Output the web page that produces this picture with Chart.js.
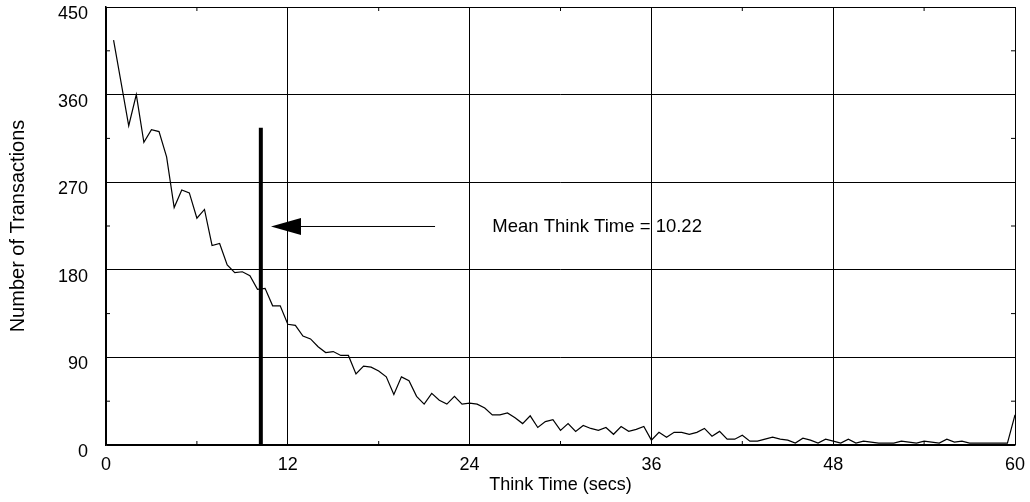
<!DOCTYPE html>
<html>
<head>
<meta charset="utf-8">
<title>Think Time Distribution</title>
<script src="https://cdn.jsdelivr.net/npm/chart.js@4"></script>
<style>
  body { margin: 0; background: #fff; }
  #wrap { width: 1030px; height: 502px; }
</style>
</head>
<body>
<div id="wrap"><canvas id="chart"></canvas></div>
<script>
// think time buckets (secs) and transaction counts
const thinkTimes = [
    0.5, 1, 1.5, 2, 2.5, 3, 3.5, 4, 4.5, 5, 5.5, 6, 6.5, 7, 7.5, 8, 8.5, 9, 9.5, 10,
    10.5, 11, 11.5, 12, 12.5, 13, 13.5, 14, 14.5, 15, 15.5, 16, 16.5, 17, 17.5, 18, 18.5, 19, 19.5, 20,
    20.5, 21, 21.5, 22, 22.5, 23, 23.5, 24, 24.5, 25, 25.5, 26, 26.5, 27, 27.5, 28, 28.5, 29, 29.5, 30,
    30.5, 31, 31.5, 32, 32.5, 33, 33.5, 34, 34.5, 35, 35.5, 36, 36.5, 37, 37.5, 38, 38.5, 39, 39.5, 40,
    40.5, 41, 41.5, 42, 42.5, 43, 43.5, 44, 44.5, 45, 45.5, 46, 46.5, 47, 47.5, 48, 48.5, 49, 49.5, 50,
    50.5, 51, 51.5, 52, 52.5, 53, 53.5, 54, 54.5, 55, 55.5, 56, 56.5, 57, 57.5, 58, 58.5, 59, 59.5, 60
];
const transactions = [
    416, 372, 328, 360, 311, 324, 322, 296, 244, 262, 259, 233, 242, 205, 207, 185, 177, 178, 174, 160,
    161, 143, 143, 124, 123, 112, 109, 101, 95, 96, 92, 92, 73, 81, 80, 76, 70, 52, 70, 66,
    50, 42, 53, 46, 42, 50, 42, 43, 42, 38, 31, 31, 33, 28, 22, 30, 18, 24, 26, 15,
    22, 14, 20, 17, 15, 18, 11, 19, 14, 16, 19, 5, 13, 8, 13, 13, 11, 13, 17, 9,
    14, 6, 6, 10, 4, 4, 6, 8, 6, 5, 2, 7, 5, 2, 6, 4, 2, 6, 2, 4,
    3, 2, 2, 2, 4, 3, 2, 4, 3, 2, 6, 3, 4, 2, 2, 2, 2, 2, 2, 31
];

// mean marker and arrow annotation
const meanThinkTime = 10.22;
const meanBarTop = 326;
const arrowY = 224.5;
const arrowTip = 10.89;
const arrowHeadBase = 12.87;
const arrowTail = 21.72;
const annotationX = 25.5;
const annotationText = 'Mean Think Time = 10.22';

// axis ticks
const xMajorTicks = [0, 12, 24, 36, 48, 60];
const xMinorTicks = [6, 18, 30, 42, 54];
const yMajorTicks = [0, 90, 180, 270, 360, 450];
const yMinorTicks = [45, 135, 225, 315, 405];

const fontFamily = "'Liberation Sans', Arial, Helvetica, sans-serif";

const decorations = {
    id: 'decorations',
    afterDatasetsDraw(chart) {
        const ctx = chart.ctx;
        const x = chart.scales.x;
        const y = chart.scales.y;
        const area = chart.chartArea;
        const len = 4;

        ctx.save();
        ctx.strokeStyle = '#000';
        ctx.lineWidth = 1;
        ctx.beginPath();
        xMinorTicks.forEach(v => {
            const px = x.getPixelForValue(v);
            ctx.moveTo(px, area.top);
            ctx.lineTo(px, area.top + len);
            ctx.moveTo(px, area.bottom);
            ctx.lineTo(px, area.bottom - len);
        });
        yMinorTicks.forEach(v => {
            const py = y.getPixelForValue(v);
            ctx.moveTo(area.left, py);
            ctx.lineTo(area.left + len, py);
            ctx.moveTo(area.right, py);
            ctx.lineTo(area.right - len, py);
        });
        ctx.stroke();

        // arrow head
        const ay = y.getPixelForValue(arrowY);
        const tipX = x.getPixelForValue(arrowTip);
        const baseX = x.getPixelForValue(arrowHeadBase);
        ctx.fillStyle = '#000';
        ctx.beginPath();
        ctx.moveTo(tipX, ay);
        ctx.lineTo(baseX, ay - 8.5);
        ctx.lineTo(baseX, ay + 8.5);
        ctx.closePath();
        ctx.fill();

        // label
        ctx.font = '18.5px ' + fontFamily;
        ctx.textBaseline = 'middle';
        ctx.textAlign = 'left';
        ctx.fillText(annotationText, x.getPixelForValue(annotationX), ay);
        ctx.restore();
    }
};

const ctx = document.getElementById('chart').getContext('2d');
new Chart(ctx, {
    type: 'line',
    data: {
        datasets: [
            {
                label: 'Transactions',
                data: thinkTimes.map((t, i) => ({ x: t, y: transactions[i] })),
                borderColor: '#000',
                borderWidth: 1.2,
                pointRadius: 0,
                tension: 0
            },
            {
                label: 'Mean',
                data: [{ x: meanThinkTime, y: 0 }, { x: meanThinkTime, y: meanBarTop }],
                borderColor: '#000',
                borderWidth: 4,
                borderCapStyle: 'butt',
                pointRadius: 0
            },
            {
                label: 'Arrow',
                data: [{ x: arrowHeadBase, y: arrowY }, { x: arrowTail, y: arrowY }],
                borderColor: '#000',
                borderWidth: 1,
                pointRadius: 0
            }
        ]
    },
    options: {
        responsive: true,
        maintainAspectRatio: false,
        animation: false,
        layout: {
            padding: { top: 7, right: 15, left: 0, bottom: 0 }
        },
        plugins: {
            legend: { display: false },
            tooltip: { enabled: false }
        },
        scales: {
            x: {
                type: 'linear',
                min: 0,
                max: 60,
                afterBuildTicks: scale => { scale.ticks = xMajorTicks.map(v => ({ value: v })); },
                afterFit: scale => {
                    scale.height = 57;
                    scale.paddingLeft = 0;
                    scale.paddingRight = 0;
                },
                ticks: {
                    color: '#000',
                    padding: 9,
                    maxRotation: 0,
                    font: { family: fontFamily, size: 18 }
                },
                grid: { color: '#000', lineWidth: 1, drawTicks: false },
                border: { color: '#000', width: 1.5 },
                title: {
                    display: true,
                    text: 'Think Time (secs)',
                    color: '#000',
                    padding: { top: 0, bottom: 6 },
                    font: { family: fontFamily, size: 18 }
                }
            },
            y: {
                min: 0,
                max: 450,
                afterBuildTicks: scale => { scale.ticks = yMajorTicks.map(v => ({ value: v })); },
                afterFit: scale => {
                    scale.width = 106;
                    scale.paddingTop = 0;
                    scale.paddingBottom = 0;
                },
                ticks: {
                    color: '#000',
                    padding: 18,
                    labelOffset: 7,
                    font: { family: fontFamily, size: 18 }
                },
                grid: { color: '#000', lineWidth: 1, drawTicks: false },
                border: { color: '#000', width: 1.5 },
                title: {
                    display: true,
                    text: 'Number of Transactions',
                    color: '#000',
                    padding: { top: 6, bottom: 0 },
                    font: { family: fontFamily, size: 20 }
                }
            }
        }
    },
    plugins: [decorations]
});
</script>
</body>
</html>
